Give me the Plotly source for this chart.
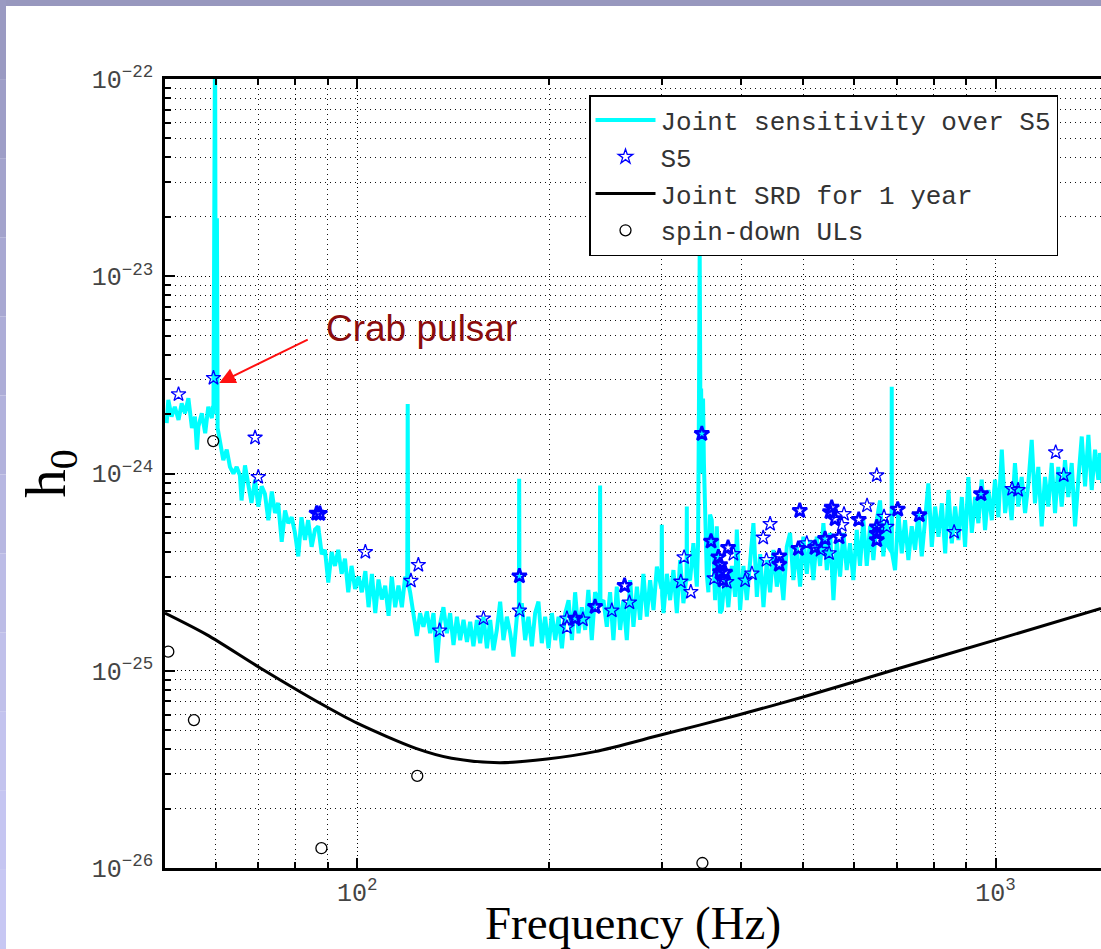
import math
import plotly.graph_objects as go

# ---------------- data ----------------
# Joint sensitivity over S5 (noisy band with spectral lines)
sens_freq = [
    50.3, 50.6, 51.2, 51.8, 52.5, 53.1, 53.75, 54.4, 55.1, 55.7, 56.1, 56.4, 57.1, 57.8, 58.45, 59.2,
    59.45, 59.5, 59.55, 59.9, 60.05, 60.3, 60.45,
    60.98, 61.7, 62.47, 63.2, 64.0, 64.75, 65.5, 65.9, 66.72, 67.5, 68.3, 69.2, 70.0, 70.87, 71.7,
    72.58, 73.5, 74.35, 75.2, 76.17, 77.1, 78.0, 78.97, 79.9, 80.87, 81.8, 82.84, 83.8, 84.86, 85.9,
    86.9, 88.0, 89.03, 90.1, 91.2, 92.3, 93.4, 94.55, 95.7, 96.84, 98.0, 99.26,
    100.5, 101.7, 103.0, 104.2, 105.47, 106.75, 108.0, 109.3, 110.64, 112.0, 113.3, 114.7, 116.06,
    117.5, 118.9, 119.8, 120.0, 120.2, 121.06, 122.5, 124.0, 125.5, 127.0, 128.6, 130.1, 131.7,
    133.35, 134.9,
    136.5, 138.2, 139.85, 141.55, 143.3, 145.0, 146.76, 148.6, 150.33, 152.1, 154.0, 155.85, 157.7,
    159.7, 161.57, 163.5, 165.5, 167.5, 169.5, 171.6, 173.7, 175.7, 177.9, 179.2, 179.4, 179.6,
    181.1, 183.3, 185.47, 187.8, 190.0, 192.3, 194.65, 197.0, 199.4, 201.85, 204.3, 206.75, 209.3,
    211.8, 214.4, 217.0, 219.5, 222.2, 224.9, 227.6, 230.25, 233.1, 235.9, 239.9, 240.2, 240.5,
    243.1, 246.1, 249.0, 252.0, 255.1, 258.2, 261.2, 264.5, 267.7, 270.9, 274.3, 277.5, 280.8,
    284.3, 287.7, 291.2, 294.8, 299.7, 300.1, 300.5, 301.9, 305.6, 309.2, 312.95, 316.8, 320.6,
    324.4, 328.1, 328.4, 328.7, 332.3, 336.3, 340.5,
    342.0, 343.2, 344.0, 344.8, 345.8, 347.0, 348.2, 349.3,
    350.8, 352.9, 355.0, 357.1, 359.3, 361.45, 363.7, 365.9, 368.0, 370.3, 372.6, 377.0, 381.5,
    386.3, 390.9, 393.3, 398.0, 402.8, 407.8, 412.7, 417.6, 422.8, 427.9, 433.0, 438.3, 443.5,
    448.9, 454.4, 459.7, 465.25, 471.0, 476.6, 482.3, 488.3, 494.2, 500.0, 506.2, 512.3, 518.35,
    524.8, 531.2, 537.5, 544.2, 550.7, 557.3, 564.1, 570.8, 577.6, 584.7, 591.7, 598.7, 606.2,
    613.4, 620.7, 628.5, 636.1, 643.7, 651.6, 659.3, 667.2, 675.4, 679.3, 687.3, 687.75, 688.2,
    696.0, 704.35, 713.1, 721.6, 730.3, 739.2, 748.1, 757.0, 766.4, 775.6, 784.9, 794.6, 804.2,
    814.0, 824.1, 834.0, 843.8, 854.1, 864.5, 874.9, 885.6, 896.0, 906.7, 918.0, 929.0, 940.0,
    951.4, 963.0, 974.6, 986.6, 998.2, 1010.4, 1022.9, 1035.1, 1047.3, 1059.8, 1072.6, 1085.4,
    1099.0, 1112.5, 1125.8, 1139.5, 1153.0, 1167.0, 1181.4, 1195.4, 1209.7, 1224.8, 1239.4,
    1254.1, 1269.7, 1284.9, 1300.0, 1316.4, 1332.2, 1348.1, 1364.85, 1381.2, 1398.0, 1414.9,
    1431.9, 1449.0, 1457.7, 1470.0,
]
sens_h = [
    1.80e-24, 2.36e-24, 1.94e-24, 2.18e-24, 1.87e-24, 2.27e-24, 2.02e-24, 2.41e-24, 1.70e-24,
    1.94e-24, 1.32e-24, 1.73e-24, 2.02e-24, 1.60e-24, 2.18e-24, 1.91e-24,
    2.20e-24, 1.58e-23, 2.00e-24, 2.00e-22, 2.10e-24, 1.97e-23, 1.70e-24,
    1.48e-24, 1.17e-24, 1.32e-24, 1.08e-24, 1.00e-24, 1.08e-24, 9.8e-25, 7.3e-25, 1.10e-24,
    8.6e-25, 7.1e-25, 9.3e-25, 6.8e-25, 8.6e-25, 7.9e-25, 5.8e-25, 8.1e-25, 6.3e-25, 7.1e-25,
    4.5e-25, 6.5e-25, 5.6e-25, 6.0e-25, 5.0e-25, 3.8e-25, 6.0e-25, 4.6e-25, 5.8e-25, 4.25e-25,
    5.2e-25, 5.4e-25, 3.9e-25, 4.1e-25, 2.8e-25, 4.0e-25, 3.4e-25, 4.1e-25, 3.1e-25, 3.7e-25,
    2.5e-25, 3.4e-25, 2.6e-25,
    3.0e-25, 2.5e-25, 3.2e-25, 2.1e-25, 3.1e-25, 1.96e-25, 2.9e-25, 2.3e-25, 2.7e-25, 1.9e-25,
    3.0e-25, 2.1e-25, 2.7e-25, 2.1e-25, 3.0e-25, 2.8e-25, 2.25e-24, 2.8e-25, 2.5e-25, 2.0e-25,
    1.5e-25, 1.96e-25, 1.67e-25, 2.0e-25, 1.55e-25, 1.96e-25, 1.1e-25, 1.74e-25,
    2.1e-25, 1.55e-25, 1.96e-25, 1.35e-25, 1.88e-25, 1.43e-25, 1.81e-25, 1.4e-25, 1.77e-25,
    1.33e-25, 1.81e-25, 1.38e-25, 1.88e-25, 1.3e-25, 1.81e-25, 1.27e-25, 1.61e-25, 2.24e-25,
    1.43e-25, 1.88e-25, 1.55e-25, 1.18e-25, 1.88e-25, 2.0e-25, 9.4e-25, 2.0e-25,
    2.2e-25, 1.43e-25, 1.88e-25, 1.33e-25, 1.96e-25, 2.24e-25, 1.38e-25, 1.88e-25, 1.3e-25,
    1.96e-25, 1.43e-25, 1.88e-25, 1.3e-25, 1.96e-25, 2.28e-25, 1.43e-25, 2.5e-25, 1.55e-25,
    2.1e-25, 1.61e-25, 2.57e-25, 1.43e-25, 2.5e-25, 2.2e-25, 8.7e-25, 2.2e-25,
    2.28e-25, 1.67e-25, 2.5e-25, 1.43e-25, 2.67e-25, 1.61e-25, 2.28e-25, 1.43e-25, 2.88e-25,
    1.67e-25, 2.67e-25, 1.81e-25, 3.1e-25, 1.88e-25, 2.88e-25, 2.03e-25, 3.37e-25, 2.6e-25,
    5.5e-25, 2.4e-25, 1.96e-25, 3.1e-25, 2.28e-25, 3.24e-25, 1.96e-25, 3.64e-25, 2.2e-25,
    3.0e-25, 6.8e-25, 3.0e-25, 2.88e-25, 4.43e-25, 2.67e-25,
    4.4e-25, 2.6e-24, 1.36e-23, 2.6e-24, 2.7e-24, 1.0e-24, 2.4e-24, 1.13e-24,
    6.0e-25, 3.1e-25, 2.5e-25, 6.2e-25, 5.8e-25, 3.4e-25, 2.28e-25, 5.4e-25, 3.4e-25, 1.96e-25,
    2.03e-25, 3.1e-25, 2.1e-25, 3.4e-25, 2.37e-25, 5.2e-25, 2.03e-25, 3.4e-25, 2.28e-25,
    3.64e-25, 5.6e-25, 2.37e-25, 3.9e-25, 2.1e-25, 3.64e-25, 2.5e-25, 4.1e-25, 2.67e-25,
    3.4e-25, 2.28e-25, 4.25e-25, 5.0e-25, 2.88e-25, 4.25e-25, 2.67e-25, 4.78e-25, 3.1e-25,
    4.6e-25, 2.88e-25, 4.78e-25, 3.4e-25, 5.6e-25, 3.24e-25, 5.0e-25, 2.28e-25, 4.6e-25,
    3.0e-25, 5.0e-25, 3.24e-25, 4.43e-25, 2.88e-25, 5.17e-25, 3.4e-25, 5.8e-25, 3.4e-25,
    5.4e-25, 3.64e-25, 5.8e-25, 7.3e-25, 3.8e-25, 5.8e-25, 4.25e-25, 4.0e-25, 2.75e-24, 4.0e-25,
    3.24e-25, 6.3e-25, 3.94e-25, 5.8e-25, 3.64e-25, 5.4e-25, 4.1e-25, 6.3e-25, 3.8e-25,
    5.8e-25, 8.9e-25, 4.25e-25, 6.8e-25, 4.78e-25, 7.06e-25, 3.94e-25, 8.25e-25, 4.43e-25,
    6.8e-25, 4.6e-25, 7.6e-25, 4.25e-25, 9.6e-25, 5.0e-25, 7.6e-25, 5.6e-25, 9.3e-25, 5.17e-25,
    8.25e-25, 5.8e-25, 9.3e-25, 6.0e-25, 1.32e-24, 6.3e-25, 8.6e-25, 5.8e-25, 1.13e-24, 6.8e-25,
    9.6e-25, 6.3e-25, 8.9e-25, 1.48e-24, 7.06e-25, 1.08e-24, 5.4e-25, 9.6e-25, 6.8e-25,
    1.13e-24, 6.3e-25, 1.08e-24, 6.8e-25, 1.17e-24, 7.6e-25, 1.13e-24, 5.4e-25, 9.3e-25,
    1.54e-24, 8.6e-25, 1.57e-24, 8.25e-25, 1.32e-24, 9.3e-25, 1.27e-24, 9.0e-25,
]

# S5 upper limits (individual pulsars)
s5_freq = [52.5, 59.55, 69.2, 70.0, 103.0, 121.4, 124.7, 134.65, 157.7, 179.55, 213.1, 213.1,
           225.7, 250.55, 267.0, 321.4, 325.2, 333.2, 362.4, 379.3, 388.5, 405.3, 415.3, 432.6,
           437.7, 443.5, 506.2, 532.1, 548.7, 574.3, 579.0, 629.2, 651.6, 668.9, 675.4, 861.3,
           1061.6, 1084.9, 1242.4, 1278.9]
s5_h = [2.52e-24, 3.05e-24, 1.52e-24, 9.6e-25, 4.0e-25, 2.86e-25, 3.44e-25, 1.60e-25, 1.84e-25,
        2.02e-25, 1.84e-25, 1.66e-25, 1.82e-25, 2.02e-25, 2.22e-25, 2.83e-25, 3.76e-25, 2.51e-25,
        2.94e-25, 2.82e-25, 3.91e-25, 2.87e-25, 3.11e-25, 4.73e-25, 3.64e-25, 5.55e-25, 4.43e-25,
        4.1e-25, 3.94e-25, 5.48e-25, 6.23e-25, 6.88e-25, 9.8e-25, 6.04e-25, 5.37e-25, 5.05e-25,
        8.35e-25, 8.25e-25, 1.28e-24, 9.8e-25]
# S5 points that appear bold (overlapping limits)
s5_bold_freq = [86.4, 87.4, 179.55, 219.5, 235.9, 262.4, 346.7, 358.4, 368.0, 370.3, 370.3,
                377.0, 374.3, 381.1, 458.4, 458.4, 491.2, 493.6, 521.5, 540.8, 550.5, 553.9,
                560.6, 568.8, 610.6, 651.6, 651.6, 651.6, 702.8, 759.7, 949.0]
s5_bold_h = [6.28e-25, 6.26e-25, 3.02e-25, 1.84e-25, 2.11e-25, 2.70e-25, 1.59e-24, 4.53e-25,
             3.77e-25, 3.44e-25, 3.17e-25, 3.15e-25, 2.88e-25, 4.21e-25, 3.81e-25, 3.46e-25,
             4.16e-25, 6.48e-25, 4.21e-25, 4.67e-25, 6.38e-25, 6.72e-25, 5.88e-25, 4.76e-25,
             5.83e-25, 5.35e-25, 4.96e-25, 4.6e-25, 6.58e-25, 6.16e-25, 7.87e-25]

# Joint SRD for 1 year
srd_freq = [50, 58.2, 70.6, 88.5, 100, 123.6, 140.6, 167.1, 198.4, 235.8, 298.8, 395.3, 501,
            707, 998, 1463]
srd_h = [1.96e-25, 1.52e-25, 1.03e-25, 6.70e-26, 5.42e-26, 4.04e-26, 3.60e-26, 3.42e-26,
         3.57e-26, 3.89e-26, 4.72e-26, 5.97e-26, 7.38e-26, 1.03e-25, 1.43e-25, 2.07e-25]

# spin-down upper limits
sd_freq = [50.6, 55.5, 59.5, 87.9, 124.2, 347.4]
sd_h = [1.25e-25, 5.62e-26, 1.46e-24, 1.26e-26, 2.93e-26, 1.06e-26]

# axis ticks
x_major = [100, 1000]
x_major_text = ["10<sup>2</sup>", "10<sup>3</sup>"]
x_minor = [60, 70, 80, 90, 200, 300, 400, 500, 600, 700, 800, 900]
y_major = [1e-26, 1e-25, 1e-24, 1e-23, 1e-22]
y_major_text = ["10<sup>\u221226</sup>", "10<sup>\u221225</sup>", "10<sup>\u221224</sup>",
                "10<sup>\u221223</sup>", "10<sup>\u221222</sup>"]
y_minor = [m * 10.0 ** e for e in (-26, -25, -24, -23) for m in range(2, 10)]

x_lo, x_hi = 50, 1463
y_lo, y_hi = 1e-26, 1e-22

crab_tip = (60.8, 2.88e-24)
crab_label = (126, 5.46e-24)

# ---------------- figure ----------------
W, H = 1101, 949
ML, MR, MT, MB = 165, 0, 79, 81

fig = go.Figure()
fig.add_trace(go.Scatter(x=sens_freq, y=sens_h, mode="lines", name="Joint sensitivity over S5",
                         line=dict(color="#00ffff", width=4)))
fig.add_trace(go.Scatter(x=s5_freq, y=s5_h, mode="markers", name="S5",
                         marker=dict(symbol="star-open", size=11, color="#0000ff",
                                     line=dict(width=1.3, color="#0000ff"))))
fig.add_trace(go.Scatter(x=s5_bold_freq, y=s5_bold_h, mode="markers", name="S5",
                         showlegend=False,
                         marker=dict(symbol="star-open", size=11, color="#0000ff",
                                     line=dict(width=2.6, color="#0000ff"))))
fig.add_trace(go.Scatter(x=srd_freq, y=srd_h, mode="lines", name="Joint SRD for 1 year",
                         line=dict(color="black", width=3, shape="spline", smoothing=0.8)))
fig.add_trace(go.Scatter(x=sd_freq, y=sd_h, mode="markers", name="spin-down ULs",
                         marker=dict(symbol="circle-open", size=11, color="black",
                                     line=dict(width=1.3, color="black"))))

tickfont = dict(family="Liberation Mono", size=25, color="#444444")
common = dict(type="log", showline=True, linecolor="black", linewidth=2.5,
              ticks="inside", ticklen=10, tickwidth=2, tickcolor="black",
              tickmode="array", tickfont=tickfont, zeroline=False,
              showgrid=True, gridcolor="black", gridwidth=1, griddash="1px,3px")
minor_common = dict(tickmode="array", ticks="inside", ticklen=6, tickwidth=2,
                    tickcolor="black", showgrid=True, gridcolor="#111111", gridwidth=1,
                    griddash="1px,4px")

fig.update_xaxes(**common, range=[math.log10(x_lo), math.log10(x_hi)], mirror="ticks",
                 tickvals=x_major, ticktext=x_major_text,
                 minor=dict(**minor_common, tickvals=x_minor),
                 title=dict(text="Frequency (Hz)", standoff=4,
                            font=dict(family="Liberation Serif", size=47, color="black")))
fig.update_yaxes(**common, range=[math.log10(y_lo), math.log10(y_hi)], mirror=False,
                 tickvals=y_major, ticktext=y_major_text, ticklabelstandoff=4,
                 minor=dict(**minor_common, tickvals=y_minor),
                 title=dict(text="h<sub>0</sub>", standoff=8,
                            font=dict(family="Liberation Serif", size=57, color="black")))

# Crab pulsar annotation
fig.add_annotation(x=math.log10(crab_tip[0]), y=math.log10(crab_tip[1]), xref="x", yref="y",
                   text="", showarrow=True, ax=90, ay=-44, arrowhead=2, arrowsize=1.6,
                   arrowwidth=2, arrowcolor="#ff1010", standoff=0)
fig.add_annotation(x=math.log10(crab_label[0]), y=math.log10(crab_label[1]), xref="x", yref="y",
                   text="Crab pulsar", showarrow=False,
                   font=dict(family="Liberation Sans", size=37, color="#8b0d0d"))

# lavender slide frame (top strip and left gradient strip)
def px_x(p):
    return (p - ML) / (W - ML - MR)


def px_y(p):
    return (H - MB - p) / (H - MT - MB)


shapes = [dict(type="rect", xref="paper", yref="paper", x0=px_x(0), x1=px_x(W),
               y0=px_y(6), y1=px_y(0), fillcolor="#9898be", line=dict(width=0), layer="above")]
frame_cols = ["#9a9ac2", "#9e9ec7", "#a3a3cc", "#a8a8d2", "#adadd7", "#b2b2dc", "#b7b7e1",
              "#bcbce6", "#c0c0ea", "#c3c3ee", "#c5c5f1", "#c7c7f3"]
n = len(frame_cols)
for i, c in enumerate(frame_cols):
    shapes.append(dict(type="rect", xref="paper", yref="paper", x0=px_x(0), x1=px_x(6),
                       y0=px_y(H * (i + 1) / n), y1=px_y(H * i / n), fillcolor=c,
                       line=dict(width=0), layer="above"))

fig.update_layout(
    width=W, height=H, margin=dict(l=ML, r=MR, t=MT, b=MB, pad=0),
    paper_bgcolor="white", plot_bgcolor="white", shapes=shapes,
    showlegend=True,
    legend=dict(x=px_x(589), y=px_y(95), xanchor="left", yanchor="top",
                bgcolor="white", bordercolor="black", borderwidth=1.5,
                font=dict(family="Liberation Mono", size=26, color="#333333"),
                itemwidth=60, tracegroupgap=0),
)

fig.write_html("out.html", config={"displayModeBar": False},
               post_script="document.body.style.margin='0px';document.body.style.padding='0px';")
